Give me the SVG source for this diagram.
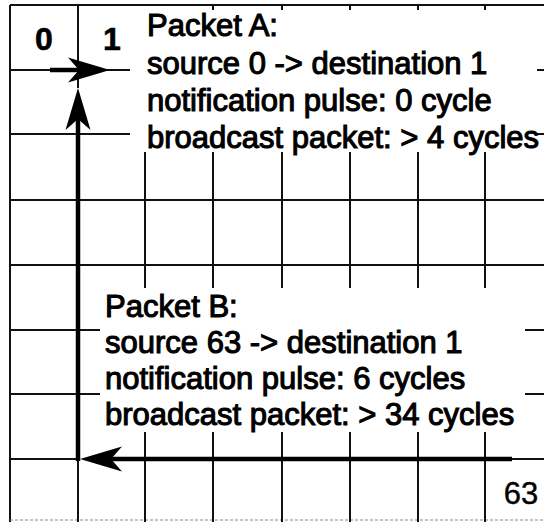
<svg xmlns="http://www.w3.org/2000/svg" width="544" height="522" viewBox="0 0 544 522">
  <style>
    .grid { stroke: #111; stroke-width: 2; fill: none; }
    .faint { stroke: #888; stroke-width: 1; stroke-dasharray: 3 2; fill: none; }
    .shaft { stroke: #000; stroke-width: 4.5; fill: none; }
    .head { fill: #000; }
    .txt { font-family: "Liberation Sans", Arial, sans-serif; font-size: 31px; fill: #000; stroke: #000; stroke-width: 1.1; }
    .cell { font-family: "Liberation Sans", Arial, sans-serif; font-weight: bold; font-size: 32px; fill: #000; text-anchor: middle; stroke: #000; stroke-width: 0.6; }
    .cellr { font-family: "Liberation Sans", Arial, sans-serif; font-size: 31px; fill: #000; text-anchor: middle; stroke: #000; stroke-width: 0.4; }
  </style>
  <defs>
    <path id="ah" d="M0,0 L-42,-12.5 L-31,0 L-42,12.5 Z"/>
  </defs>
  <rect x="0" y="0" width="544" height="522" fill="#fff"/>

  <g id="grid">
    <!-- borders -->
    <line class="grid" x1="10" y1="5" x2="544" y2="5"/>
    <line class="grid" x1="10" y1="5" x2="10" y2="522"/>
    <line class="faint" x1="10" y1="520" x2="544" y2="520"/>
    <!-- column x=78 thin parts -->
    <line class="grid" x1="78" y1="5" x2="78" y2="88"/>
    <line class="grid" x1="78" y1="459" x2="78" y2="522"/>
    <!-- top ticks -->
    <line class="grid" x1="213" y1="5" x2="213" y2="10"/>
    <line class="grid" x1="282" y1="5" x2="282" y2="10"/>
    <line class="grid" x1="350" y1="5" x2="350" y2="10"/>
    <line class="grid" x1="418" y1="5" x2="418" y2="10"/>
    <line class="grid" x1="485" y1="5" x2="485" y2="10"/>
    <!-- middle vertical segments -->
    <line class="grid" x1="145" y1="152" x2="145" y2="288"/>
    <line class="grid" x1="213" y1="152" x2="213" y2="288"/>
    <line class="grid" x1="282" y1="152" x2="282" y2="288"/>
    <line class="grid" x1="350" y1="152" x2="350" y2="288"/>
    <line class="grid" x1="418" y1="152" x2="418" y2="288"/>
    <line class="grid" x1="485" y1="152" x2="485" y2="288"/>
    <!-- bottom vertical segments -->
    <line class="grid" x1="145" y1="432" x2="145" y2="522"/>
    <line class="grid" x1="213" y1="432" x2="213" y2="522"/>
    <line class="grid" x1="282" y1="432" x2="282" y2="522"/>
    <line class="grid" x1="350" y1="432" x2="350" y2="522"/>
    <line class="grid" x1="418" y1="432" x2="418" y2="522"/>
    <line class="grid" x1="485" y1="432" x2="485" y2="522"/>
    <!-- horizontal rows -->
    <line class="grid" x1="10" y1="70" x2="130" y2="70"/>
    <line class="grid" x1="537" y1="70" x2="544" y2="70"/>
    <line class="grid" x1="10" y1="134" x2="130" y2="134"/>
    <line class="grid" x1="537" y1="134" x2="544" y2="134"/>
    <line class="grid" x1="10" y1="200" x2="544" y2="200"/>
    <line class="grid" x1="10" y1="265" x2="544" y2="265"/>
    <line class="grid" x1="10" y1="330" x2="100" y2="330"/>
    <line class="grid" x1="525" y1="330" x2="544" y2="330"/>
    <line class="grid" x1="10" y1="394" x2="100" y2="394"/>
    <line class="grid" x1="525" y1="394" x2="544" y2="394"/>
    <line class="grid" x1="10" y1="459" x2="78" y2="459"/>
    <line class="grid" x1="505" y1="459" x2="544" y2="459"/>
  </g>

  <g id="connectors">
    <!-- Packet A: 0 -> 1 -->
    <line class="shaft" x1="50" y1="70" x2="85" y2="70"/>
    <use href="#ah" class="head" transform="translate(110,70)"/>
    <!-- Packet B: 63 -> ... -> 1 -->
    <line class="shaft" x1="512" y1="459" x2="105" y2="459"/>
    <use href="#ah" class="head" transform="translate(80,459) rotate(180)"/>
    <line class="shaft" x1="78" y1="461" x2="78" y2="112"/>
    <use href="#ah" class="head" transform="translate(78,88) rotate(-90)"/>
  </g>

  <g id="cell-0"><text class="cell" x="44" y="50">0</text></g>
  <g id="cell-1"><text class="cell" x="112" y="50">1</text></g>
  <g id="cell-63"><text class="cellr" x="521" y="504">63</text></g>

  <g id="packet-a">
    <text class="txt" x="147" y="36">Packet A:</text>
    <text class="txt" x="147" y="74">source 0 -&gt; destination 1</text>
    <text class="txt" x="147" y="111">notification pulse: 0 cycle</text>
    <text class="txt" x="147" y="148">broadcast packet: &gt; 4 cycles</text>
  </g>

  <g id="packet-b">
    <text class="txt" x="105" y="317">Packet B:</text>
    <text class="txt" x="105" y="353">source 63 -&gt; destination 1</text>
    <text class="txt" x="105" y="389">notification pulse: 6 cycles</text>
    <text class="txt" x="105" y="425">broadcast packet: &gt; 34 cycles</text>
  </g>
</svg>
